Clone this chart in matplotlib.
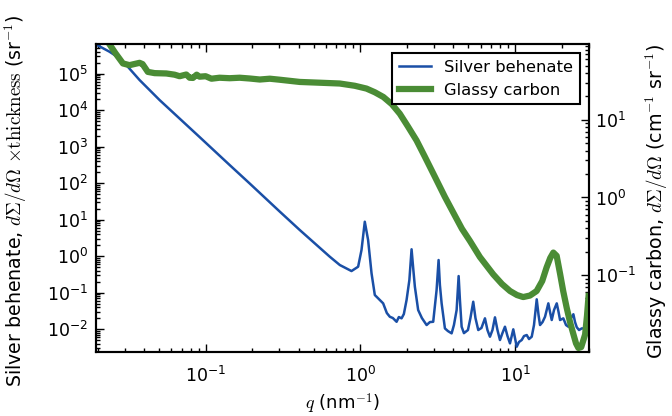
import matplotlib
matplotlib.use("Agg")
import matplotlib.pyplot as plt
from matplotlib.ticker import LogLocator, NullFormatter

# ---------------- data ----------------
# Silver behenate (left axis)
sb_q = [0.0197, 0.0204, 0.0239, 0.0278, 0.0307, 0.0374, 0.0504, 0.0914, 0.143,
        0.1927, 0.301, 0.406, 0.635, 0.737, 0.877, 0.968, 1.018, 1.069, 1.123,
        1.182, 1.241, 1.304, 1.405, 1.484, 1.552, 1.623, 1.716, 1.775, 1.848,
        1.912, 1.991, 2.076, 2.145, 2.203, 2.253, 2.366, 2.501, 2.683, 2.818,
        2.960, 3.113, 3.207, 3.270, 3.355, 3.524, 3.684, 3.893, 4.030, 4.195,
        4.322, 4.406, 4.519, 4.677, 4.965, 5.152, 5.372, 5.552, 5.788, 6.071,
        6.395, 6.637, 6.889, 7.152, 7.423, 7.704, 7.996, 8.300, 8.614, 8.942,
        9.282, 9.750, 10.26, 10.61, 11.05, 11.44, 11.91, 12.32, 12.83, 13.27,
        13.82, 14.20, 14.52, 15.07, 15.64, 16.43, 16.85, 17.28, 17.88, 18.62,
        19.13, 19.56, 20.54, 21.38, 22.13, 23.04, 23.85, 24.45, 25.08, 25.95,
        27.02, 28.39, 29.24, 30.13]
sb_I = [6.55e5, 5.78e5, 4.03e5, 2.66e5, 1.74e5, 6.76e4, 1.91e4, 1853, 317,
        98.9, 16.9, 5.26, 0.975, 0.578, 0.395, 0.519, 1.49, 8.87, 2.80,
        0.342, 0.0871, 0.0707, 0.0515, 0.0280, 0.0221, 0.0204, 0.0161, 0.0217, 0.0200,
        0.0262, 0.0635, 0.224, 1.56, 0.421, 0.147, 0.0338, 0.0204, 0.0131, 0.0158,
        0.0161, 0.119, 0.792, 0.164, 0.0515, 0.0106, 0.00897, 0.00776, 0.0131, 0.0338,
        0.288, 0.0635, 0.0118, 0.00787, 0.00957, 0.0204, 0.0570, 0.0204, 0.00957, 0.0109,
        0.0200, 0.00957, 0.00627, 0.00957, 0.0213, 0.00957, 0.00509, 0.00792, 0.0118, 0.00655,
        0.00413, 0.0100, 0.00333, 0.00449, 0.00509, 0.00655, 0.00698, 0.00542, 0.00627, 0.0131,
        0.0664, 0.0247, 0.0131, 0.0158, 0.0221, 0.0515, 0.0298, 0.0180, 0.0338, 0.0515,
        0.0298, 0.0180, 0.0200, 0.0131, 0.0118, 0.0204, 0.0259, 0.0158, 0.0114, 0.00957,
        0.0106, 0.0106, 0.0180, 0.0158]

# Glassy carbon (right axis)
gc_q = [0.0225, 0.0261, 0.0292, 0.0322, 0.0374, 0.0391, 0.0423, 0.0468, 0.0557,
        0.0630, 0.0679, 0.0750, 0.0788, 0.0828, 0.0875, 0.0914, 0.100, 0.109,
        0.123, 0.143, 0.166, 0.193, 0.224, 0.260, 0.301, 0.406, 0.547, 0.736,
        0.920, 1.096, 1.24, 1.41, 1.60, 1.80, 2.03, 2.31, 2.61, 3.03, 3.52,
        4.09, 4.54, 5.11, 5.93, 7.24, 8.24, 9.29, 10.3, 11.3, 12.5, 13.8,
        15.0, 16.0, 16.9, 17.7, 18.6, 19.6, 20.5, 21.6, 22.7, 23.9, 24.8,
        25.7, 26.8, 28.4, 29.2, 29.9]
gc_I = [113, 72.4, 53.3, 50.7, 54.3, 52.3, 41.5, 40.0, 39.6,
        38.2, 36.5, 38.4, 34.9, 34.7, 38.2, 36.0, 36.5, 33.9,
        34.9, 34.4, 34.9, 34.1, 33.1, 33.9, 32.9, 30.8, 30.1, 29.4,
        27.5, 25.3, 22.7, 19.7, 15.9, 12.0, 8.24, 5.43, 3.37, 1.86, 1.02,
        0.582, 0.395, 0.276, 0.171, 0.102, 0.0767, 0.0623, 0.0553, 0.0521, 0.0545, 0.0623,
        0.0839, 0.125, 0.166, 0.195, 0.177, 0.102, 0.0622, 0.0378, 0.0247, 0.0171, 0.0132,
        0.0115, 0.0118, 0.0171, 0.0296, 0.0537]

series_labels = ["Silver behenate", "Glassy carbon"]
x_label = r"$q$ (nm$^{-1}$)"
y_left_label = r"Silver behenate, $d\Sigma/d\Omega\ {\times}\mathrm{thickness}$ (sr$^{-1}$)"
y_right_label = r"Glassy carbon, $d\Sigma/d\Omega$ (cm$^{-1}$ sr$^{-1}$)"

# ---------------- figure ----------------
plt.rcParams["font.family"] = ["DejaVu Sans"]
plt.rcParams["font.size"] = 12

fig = plt.figure(figsize=(6.72, 4.16), dpi=100)
ax = fig.add_axes([0.1436, 0.1538, 0.8765 - 0.1436, 0.8942 - 0.1538])
ax2 = ax.twinx()

blue = "#1a4fa6"
green = "#4a8c35"

l1, = ax.plot(sb_q, sb_I, color=blue, lw=1.8, label=series_labels[0])
l2, = ax2.plot(gc_q, gc_I, color=green, lw=4.5, label=series_labels[1],
               solid_joinstyle="round")

for a in (ax, ax2):
    a.set_xscale("log")
    a.set_yscale("log")

ax.set_xlim(0.0197, 30.1)
ax.set_ylim(2.39e-3, 6.55e5)
ax2.set_ylim(0.0102, 94.9)

ax.yaxis.set_major_locator(LogLocator(base=10, numticks=20))
ax.yaxis.set_minor_locator(LogLocator(base=10, subs=range(2, 10), numticks=20))
ax.yaxis.set_minor_formatter(NullFormatter())

ax.tick_params(which="both", direction="in", top=True, right=False, labelsize=12.5)
ax.tick_params(which="major", length=6, width=1)
ax.tick_params(which="minor", length=3, width=1)
ax2.tick_params(which="both", direction="in", right=True, labelsize=12.5)
ax2.tick_params(which="major", length=6, width=1)
ax2.tick_params(which="minor", length=3, width=1)
ax.tick_params(axis="x", which="major", pad=10)
ax.tick_params(axis="y", which="major", pad=6)
ax2.tick_params(axis="y", which="major", pad=4)

for a in (ax, ax2):
    for s in a.spines.values():
        s.set_linewidth(1.5)

ax.set_xlabel(x_label, fontsize=13, math_fontfamily="cm")
ax.set_ylabel(y_left_label, fontsize=13.7, math_fontfamily="cm")
ax2.set_ylabel(y_right_label, fontsize=13.7, math_fontfamily="cm")
ax.yaxis.set_label_coords(-0.137, 0.49)
ax2.yaxis.set_label_coords(1.112, 0.49)

leg = ax2.legend([l1, l2], series_labels, loc="upper right", fancybox=False,
                 edgecolor="black", framealpha=1, fontsize=11.8,
                 handlelength=2.0, borderaxespad=0.55)
leg.get_frame().set_linewidth(1.5)

fig.savefig("out.png", dpi=100)
